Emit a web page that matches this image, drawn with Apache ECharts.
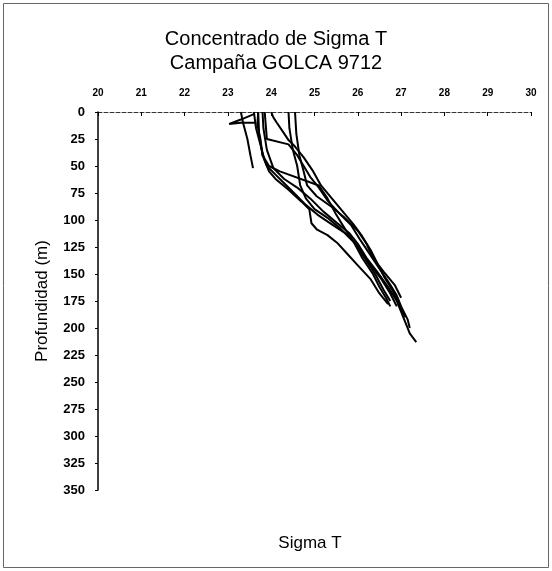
<!DOCTYPE html>
<html>
<head>
<meta charset="utf-8">
<script src="https://cdn.jsdelivr.net/npm/echarts@6/dist/echarts.min.js"></script>
<style>
  html, body { margin: 0; padding: 0; background: #fff; }
  #chart { width: 552px; height: 571px; }
</style>
</head>
<body>
<div id="chart"></div>
<script>
// Sigma T profiles (sigma, depth in m), one array per station cast
const xTicks = [20, 21, 22, 23, 24, 25, 26, 27, 28, 29, 30];
const yTicks = [0, 25, 50, 75, 100, 125, 150, 175, 200, 225, 250, 275, 300, 325, 350];

const cast01 = [[23.65,10],[23.3,10],[23.03,11],[23.3,7],[23.6,2]];
const cast02 = [[23.3,0],[23.35,10],[23.45,25],[23.52,40],[23.58,52]];
const cast03 = [[23.6,0],[23.65,15],[23.75,30],[23.85,45],[23.95,55],[24.1,62],[24.4,72],[24.7,83],[24.88,90],[24.93,103],[25.06,109],[25.3,114],[25.52,121],[25.75,131],[26.0,142],[26.3,155],[26.5,168],[26.7,178]];
const cast04 = [[23.7,0],[23.72,20],[23.8,40],[23.95,50],[24.2,55],[25.1,68],[25.3,80],[25.5,95],[25.7,108],[25.9,120],[26.1,135],[26.35,150],[26.5,162],[26.65,172],[26.75,180]];
const cast05 = [[23.8,0],[23.82,15],[23.9,35],[24.05,52],[24.3,62],[24.6,70],[24.9,80],[25.2,92],[25.5,102],[25.8,112],[26.0,122],[26.2,135],[26.45,148],[26.7,162],[26.9,175],[27.05,190],[27.2,205],[27.35,213]];
const cast06 = [[23.85,0],[23.87,10],[23.9,25],[24.4,30],[24.6,40],[24.75,50],[24.9,60],[25.1,70],[25.3,82],[25.6,95],[25.85,105],[26.05,118],[26.25,130],[26.5,145],[26.75,160],[26.9,170],[27.0,180],[27.15,192],[27.2,200]];
const cast07 = [[24.0,0],[24.05,5],[24.13,10],[24.3,20],[24.4,26],[24.55,32],[24.75,42],[24.97,55],[25.15,68],[25.4,80],[25.65,92],[25.9,104],[26.1,115],[26.3,128],[26.45,140],[26.6,152],[26.8,165],[26.95,178],[27.1,190]];
const cast08 = [[24.4,0],[24.42,15],[24.5,35],[24.6,50],[24.67,68],[24.8,80],[25.0,90],[25.3,98],[25.6,108],[25.9,120],[26.1,130],[26.3,142],[26.55,155],[26.75,168],[26.9,180]];
const cast09 = [[24.55,0],[24.58,20],[24.65,40],[24.75,55],[24.83,68],[25.05,78],[25.4,88],[25.7,98],[26.0,110],[26.2,122],[26.35,135],[26.6,148],[26.85,160],[27.0,172]];
const cast10 = [[23.7,0],[23.68,12],[23.75,25],[23.8,40],[23.9,50],[24.1,58],[24.3,66],[24.55,76],[24.8,86],[25.1,96],[25.4,104],[25.7,112],[25.95,122],[26.15,135],[26.4,150],[26.6,165],[26.75,175]];

const casts = [cast01, cast02, cast03, cast04, cast05, cast06, cast07, cast08, cast09, cast10];

const FONT = '"Liberation Sans", Arial, sans-serif';
const chart = echarts.init(document.getElementById('chart'), null, { renderer: 'canvas' });

chart.setOption({
  animation: false,
  backgroundColor: '#fff',
  title: {
    text: 'Concentrado de Sigma T\nCampaña GOLCA 9712',
    left: 'center',
    top: 22,
    textStyle: { fontFamily: FONT, fontSize: 20, fontWeight: 'normal', color: '#000', lineHeight: 24 }
  },
  grid: { left: 98, right: 21, top: 112, bottom: 81 },
  xAxis: {
    type: 'value',
    position: 'top',
    min: xTicks[0],
    max: xTicks[xTicks.length - 1],
    interval: 1,
    axisLine: { onZero: false, lineStyle: { color: '#333', width: 1, type: [4, 2] } },
    axisTick: { inside: true, length: 4, lineStyle: { color: '#000' } },
    axisLabel: { fontFamily: FONT, fontSize: 10, fontWeight: 'bold', color: '#000', margin: 14 },
    splitLine: { show: false }
  },
  yAxis: {
    type: 'value',
    inverse: true,
    min: yTicks[0],
    max: yTicks[yTicks.length - 1],
    interval: 25,
    name: 'Profundidad (m)',
    nameLocation: 'middle',
    nameGap: 47,
    nameRotate: 90,
    nameTextStyle: { fontFamily: FONT, fontSize: 17, color: '#000' },
    axisLine: { onZero: false, lineStyle: { color: '#000', width: 1.5 } },
    axisTick: { length: 3, lineStyle: { color: '#000' } },
    axisLabel: { fontFamily: FONT, fontSize: 13, fontWeight: 'bold', color: '#000', margin: 13 },
    splitLine: { show: false }
  },
  graphic: [
    {
      type: 'rect',
      shape: { x: 3.5, y: 3.5, width: 545, height: 564 },
      style: { fill: 'none', stroke: '#666', lineWidth: 1 }
    },
    {
      type: 'text',
      x: 310,
      y: 543,
      style: { text: 'Sigma T', fontFamily: FONT, fontSize: 17, fill: '#000', align: 'center', verticalAlign: 'middle' }
    }
  ],
  series: casts.map((c, i) => ({
    name: 'Est ' + (i + 1),
    type: 'line',
    data: c,
    showSymbol: false,
    symbol: 'none',
    lineStyle: { color: '#000', width: 2 }
  }))
});
</script>
</body>
</html>
